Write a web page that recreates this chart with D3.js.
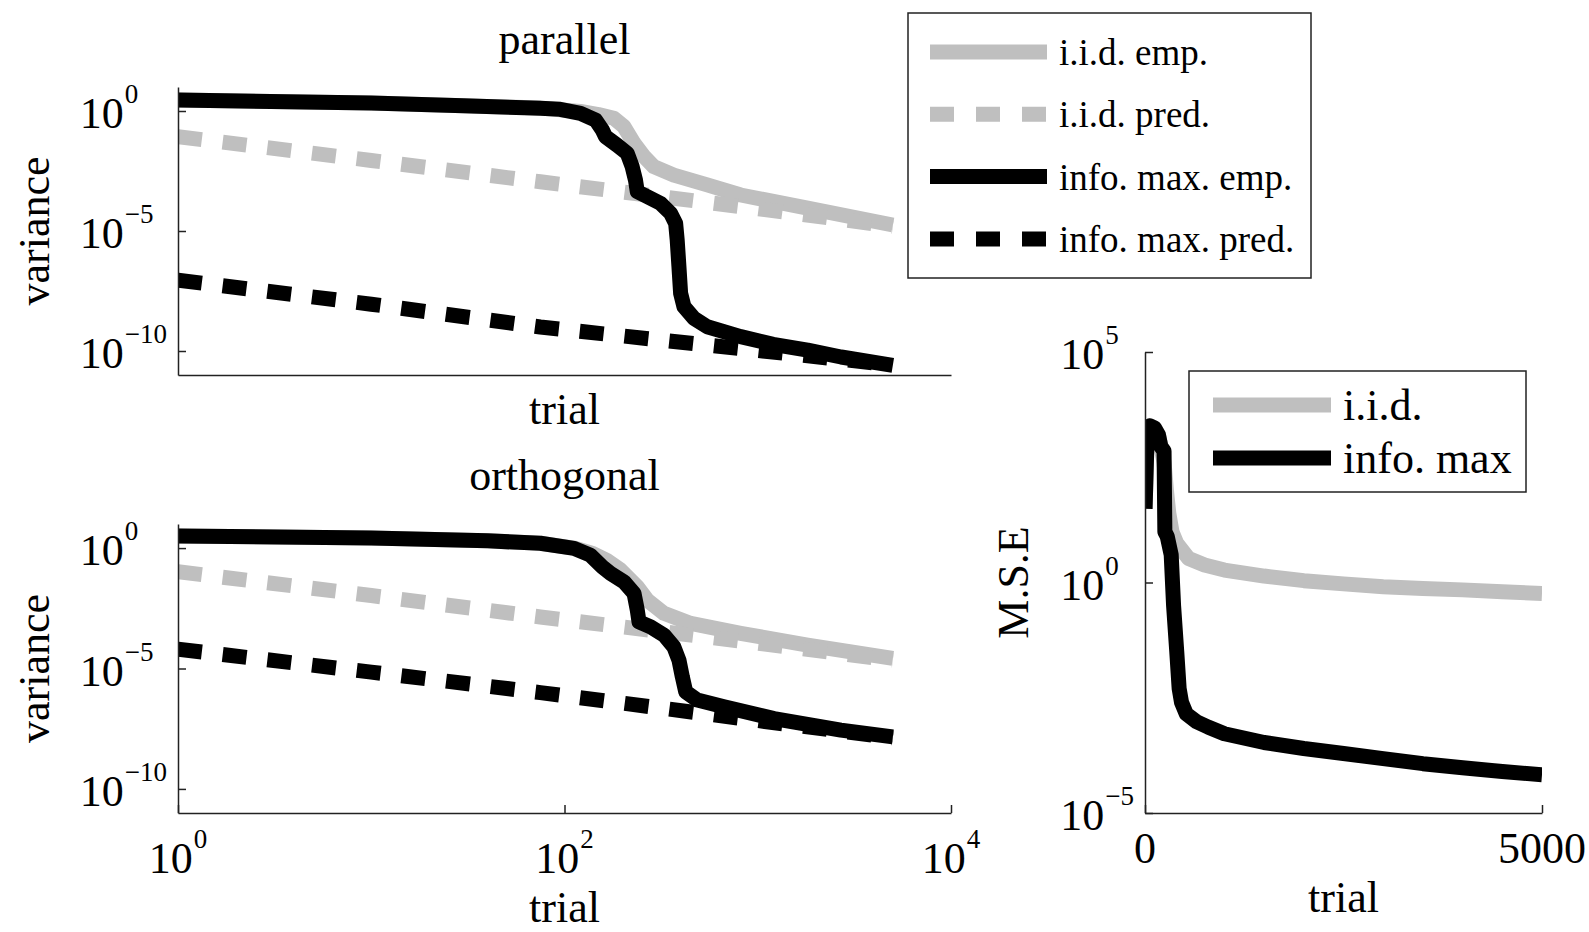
<!DOCTYPE html>
<html>
<head>
<meta charset="utf-8">
<script src="https://cdn.jsdelivr.net/npm/d3@7/dist/d3.min.js"></script>
<style>
  body { margin: 0; background: #fff; }
  svg text { font-family: "Liberation Serif", "Times New Roman", serif; fill: #000; }
</style>
</head>
<body>
<svg id="fig" width="1589" height="932"></svg>
<script>
// values; the *Log arrays hold log10 of the y value

// parallel
const parIidEmpTrial  = [1, 10, 30, 75, 121, 150, 180, 203, 229, 258, 290, 368, 548, 816, 1811, 5000];
const parIidEmpLog    = [0.46, 0.33, 0.22, 0.12, -0.02, -0.15, -0.3, -0.65, -1.35, -1.9, -2.32, -2.67, -3.08, -3.5, -4.05, -4.75];
const parIidPredTrial = [1, 10, 75, 1000, 5000];
const parIidPredLog   = [-1.07, -2.06, -2.95, -4.07, -4.8];
const parInfoEmpTrial = [1, 10, 30, 75, 95, 121, 145, 157, 163, 187, 211, 224, 233, 238, 268, 314, 354, 376, 383, 391, 399, 415, 468, 548, 816, 1200, 1811, 2700, 5000];
const parInfoEmpLog   = [0.46, 0.33, 0.22, 0.11, 0.07, -0.1, -0.38, -0.79, -1.07, -1.42, -1.76, -2.32, -2.88, -3.36, -3.57, -3.85, -4.26, -4.68, -5.38, -6.49, -7.6, -8.15, -8.64, -8.99, -9.4, -9.72, -9.96, -10.25, -10.6];
const parInfoPredTrial = [1, 10, 75, 1000, 5000];
const parInfoPredLog   = [-7.05, -8.05, -9.0, -9.98, -10.58];

// orthogonal
const ortIidEmpTrial  = [1, 10, 40, 75, 112, 140, 165, 195, 238, 268, 327, 450, 816, 1811, 5000];
const ortIidEmpLog    = [0.5, 0.42, 0.3, 0.2, 0.0, -0.22, -0.5, -0.91, -1.61, -2.16, -2.71, -3.13, -3.54, -4.03, -4.58];
const ortIidPredTrial = [1, 10, 75, 1000, 5000];
const ortIidPredLog   = [-0.98, -1.97, -2.86, -3.95, -4.65];
const ortInfoEmpTrial = [1, 10, 40, 75, 112, 136, 157, 173, 203, 229, 238, 243, 279, 327, 368, 391, 407, 424, 487, 669, 1214, 2692, 5000];
const ortInfoEmpLog   = [0.5, 0.42, 0.3, 0.2, -0.01, -0.29, -0.78, -1.05, -1.4, -1.88, -2.57, -3.06, -3.27, -3.61, -4.1, -4.65, -5.34, -5.97, -6.31, -6.59, -7.08, -7.56, -7.84];
const ortInfoPredTrial = [1, 10, 75, 1000, 5000];
const ortInfoPredLog   = [-4.2, -5.15, -6.0, -7.16, -7.88];

// M.S.E
const mseIidTrial  = [1, 30, 60, 120, 170, 200, 240, 270, 300, 340, 400, 550, 750, 1000, 1500, 2000, 2500, 3000, 3500, 4000, 4500, 5000];
const mseIidLog    = [1.6, 3.35, 3.4, 3.35, 3.2, 2.95, 2.6, 2.0, 1.5, 1.1, 0.85, 0.52, 0.38, 0.27, 0.14, 0.04, -0.03, -0.09, -0.13, -0.16, -0.2, -0.24];
const mseInfoTrial = [1, 30, 60, 120, 170, 200, 240, 250, 280, 330, 360, 400, 430, 460, 520, 650, 800, 1000, 1500, 2000, 2500, 3000, 3500, 4000, 4500, 5000];
const mseInfoLog   = [1.6, 3.35, 3.4, 3.35, 3.2, 2.95, 2.85, 1.1, 1.0, 0.6, -0.5, -1.5, -2.3, -2.6, -2.85, -3.02, -3.14, -3.28, -3.47, -3.6, -3.71, -3.82, -3.93, -4.02, -4.1, -4.17];

const legendVarLabels = ["i.i.d. emp.", "i.i.d. pred.", "info. max. emp.", "info. max. pred."];
const legendMseLabels = ["i.i.d.", "info. max"];

const svg = d3.select("#fig");
const defs = svg.append("defs");
const grey = "#bfbfbf";
const lineW = 15;
const dash = "24 21";
const axisCol = "#222";

function textWidth(str, size) {
  const t = svg.append("text").style("font-size", size + "px").text(str);
  const w = t.node().getComputedTextLength();
  t.remove();
  return w;
}

function expStr(v) {
  const e = Math.round(Math.log10(v));
  return e < 0 ? "\u2212" + (-e) : "" + e;
}

// 10^exp, with the "10" right-aligned at bx
function power(g, exp, bx, by) {
  g.append("text").attr("x", bx).attr("y", by).attr("text-anchor", "end")
    .style("font-size", "44px").text("10");
  g.append("text").attr("x", bx + 1).attr("y", by - 25)
    .style("font-size", "27px").text(exp);
}

function styleAxis(sel) {
  sel.select(".domain").attr("stroke", axisCol).attr("stroke-width", 1.5);
  sel.selectAll(".tick line").attr("stroke", axisCol).attr("stroke-width", 1.5);
}

function yPowerLabels(g, y, ticks, axisX) {
  const supW = d3.max(ticks, t => textWidth(expStr(t), 27));
  const bx = axisX - 12 - supW;
  ticks.forEach(t => power(g, expStr(t), bx, y(t) + 17));
}

function drawSeries(g, series, x, y) {
  const line = d3.line().x(d => x(d[0])).y(d => y(Math.pow(10, d[1])));
  g.selectAll("path.series").data(series).join("path")
    .attr("class", "series")
    .attr("d", s => line(d3.zip(s.trial, s.log)))
    .attr("fill", "none")
    .attr("stroke", s => s.color)
    .attr("stroke-width", lineW)
    .attr("stroke-linejoin", "round")
    .attr("stroke-dasharray", s => s.dashed ? dash : null);
}

function clip(id, x0, y0, w, h) {
  defs.append("clipPath").attr("id", id).append("rect")
    .attr("x", x0).attr("y", y0).attr("width", w).attr("height", h);
  return `url(#${id})`;
}

// ---- the two variance panels (log-log) ----
function variancePanel(cfg) {
  const x = d3.scaleLog().domain([1, 1e4]).range([178, 951]);
  const y = d3.scaleLog().domain([1e-11, 1e1]).range([cfg.bottom, cfg.top]);
  const g = svg.append("g");

  const plot = g.append("g")
    .attr("clip-path", clip(cfg.id, 178, cfg.top, 951 - 178, cfg.bottom - cfg.top));
  drawSeries(plot, cfg.series, x, y);

  const yTicks = [1, 1e-5, 1e-10];
  g.append("g").attr("transform", "translate(178,0)")
    .call(d3.axisLeft(y).tickValues(yTicks).tickSize(-8).tickSizeOuter(0).tickFormat(""))
    .call(styleAxis);
  g.append("g").attr("transform", `translate(0,${cfg.bottom})`)
    .call(d3.axisBottom(x).tickValues(cfg.xTicks).tickSize(-8).tickSizeOuter(0).tickFormat(""))
    .call(styleAxis);

  yPowerLabels(g, y, yTicks, 178);

  cfg.xTicks.forEach(v => {
    const e = expStr(v);
    const bw = textWidth("10", 44), sw = textWidth(e, 27);
    power(g, e, x(v) - (bw + 1 + sw) / 2 + bw, cfg.bottom + 60);
  });

  g.append("text").attr("x", 564.5).attr("y", cfg.titleY).attr("text-anchor", "middle")
    .style("font-size", "44px").text(cfg.title);
  g.append("text").attr("x", 564.5).attr("y", cfg.xLabelY).attr("text-anchor", "middle")
    .style("font-size", "44px").text("trial");
  g.append("text").attr("transform", `translate(49,${(cfg.top + cfg.bottom) / 2}) rotate(-90)`)
    .attr("text-anchor", "middle").style("font-size", "44px").text("variance");
}

variancePanel({
  id: "clipPar", top: 87, bottom: 375, title: "parallel", titleY: 54, xLabelY: 424,
  xTicks: [],
  series: [
    { trial: parIidEmpTrial, log: parIidEmpLog, color: grey, dashed: false },
    { trial: parIidPredTrial, log: parIidPredLog, color: grey, dashed: true },
    { trial: parInfoEmpTrial, log: parInfoEmpLog, color: "#000", dashed: false },
    { trial: parInfoPredTrial, log: parInfoPredLog, color: "#000", dashed: true }
  ]
});

variancePanel({
  id: "clipOrt", top: 524, bottom: 813, title: "orthogonal", titleY: 490, xLabelY: 922,
  xTicks: [1, 1e2, 1e4],
  series: [
    { trial: ortIidEmpTrial, log: ortIidEmpLog, color: grey, dashed: false },
    { trial: ortIidPredTrial, log: ortIidPredLog, color: grey, dashed: true },
    { trial: ortInfoEmpTrial, log: ortInfoEmpLog, color: "#000", dashed: false },
    { trial: ortInfoPredTrial, log: ortInfoPredLog, color: "#000", dashed: true }
  ]
});

// legend of the variance panels
const leg1 = svg.append("g");
leg1.append("rect").attr("x", 908).attr("y", 13).attr("width", 403).attr("height", 265)
  .attr("fill", "#fff").attr("stroke", axisCol).attr("stroke-width", 1.5);
const leg1Style = [
  { color: grey, dashed: false }, { color: grey, dashed: true },
  { color: "#000", dashed: false }, { color: "#000", dashed: true }
];
legendVarLabels.forEach((lab, i) => {
  const cy = 52 + i * 62.3;
  leg1.append("line").attr("x1", 930).attr("x2", 1047).attr("y1", cy).attr("y2", cy)
    .attr("stroke", leg1Style[i].color).attr("stroke-width", lineW)
    .attr("stroke-dasharray", leg1Style[i].dashed ? "24 22" : null);
  leg1.append("text").attr("x", 1059).attr("y", cy + 13).style("font-size", "37px").text(lab);
});

// ---- M.S.E panel ----
{
  const x = d3.scaleLinear().domain([0, 5000]).range([1145, 1542]);
  const y = d3.scaleLog().domain([1e-5, 1e5]).range([813, 352]);
  const g = svg.append("g");

  const plot = g.append("g").attr("clip-path", clip("clipMse", 1145, 352, 1542 - 1145, 813 - 352));
  drawSeries(plot, [
    { trial: mseIidTrial, log: mseIidLog, color: grey, dashed: false },
    { trial: mseInfoTrial, log: mseInfoLog, color: "#000", dashed: false }
  ], x, y);

  const yTicks = [1e5, 1, 1e-5];
  g.append("g").attr("transform", "translate(1145,0)")
    .call(d3.axisLeft(y).tickValues(yTicks).tickSize(-8).tickSizeOuter(0).tickFormat(""))
    .call(styleAxis);
  g.append("g").attr("transform", "translate(0,813)")
    .call(d3.axisBottom(x).tickValues([0, 5000]).tickSize(-8).tickSizeOuter(0).tickFormat(""))
    .call(styleAxis);

  yPowerLabels(g, y, yTicks, 1145);
  [0, 5000].forEach(v => {
    g.append("text").attr("x", x(v)).attr("y", 863).attr("text-anchor", "middle")
      .style("font-size", "44px").text(v);
  });
  g.append("text").attr("x", 1343.5).attr("y", 912).attr("text-anchor", "middle")
    .style("font-size", "44px").text("trial");
  g.append("text").attr("transform", "translate(1028,582.5) rotate(-90)")
    .attr("text-anchor", "middle").style("font-size", "44px").text("M.S.E");

  const leg2 = g.append("g");
  leg2.append("rect").attr("x", 1189).attr("y", 371).attr("width", 337).attr("height", 121)
    .attr("fill", "#fff").attr("stroke", axisCol).attr("stroke-width", 1.5);
  const cols = [grey, "#000"];
  legendMseLabels.forEach((lab, i) => {
    const cy = 405 + i * 53;
    leg2.append("line").attr("x1", 1213).attr("x2", 1331).attr("y1", cy).attr("y2", cy)
      .attr("stroke", cols[i]).attr("stroke-width", lineW);
    leg2.append("text").attr("x", 1343).attr("y", cy + 15).style("font-size", "44px").text(lab);
  });
}
</script>
</body>
</html>
